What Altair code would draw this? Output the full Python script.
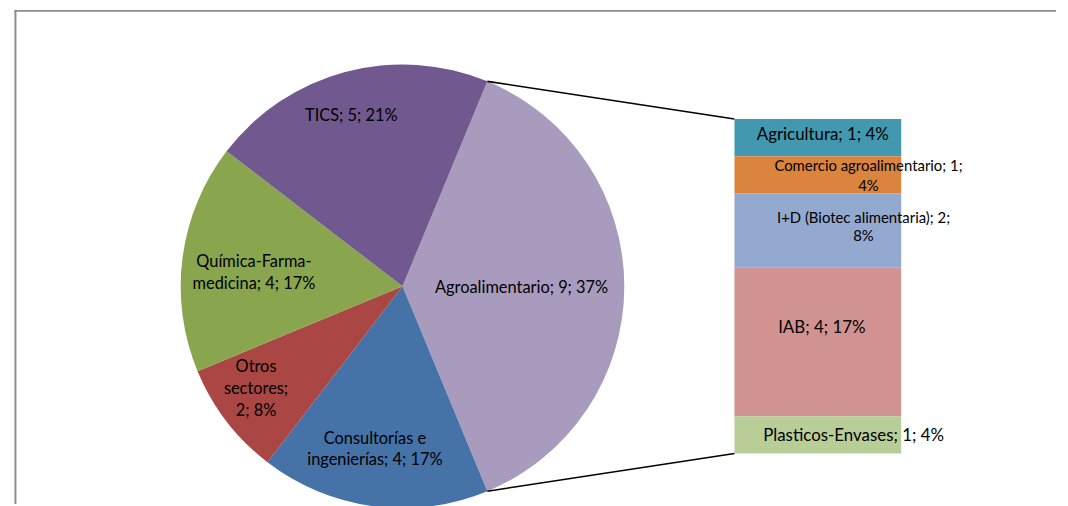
import math
import altair as alt
import pandas as pd

# ---------------- data ----------------
main_names = ["Agroalimentario", "Consultorías e ingenierías", "Otros sectores",
              "Química-Farma-medicina", "TICS"]
main_values = [9, 4, 2, 4, 5]
main_text = ["Agroalimentario; 9; 37%", "Consultorías e\ningenierías; 4; 17%",
             "Otros\nsectores;\n2; 8%", "Química-Farma-\nmedicina; 4; 17%", "TICS; 5; 21%"]
main_colors = ["#A99BBD", "#4572A7", "#AA4643", "#89A54E", "#71588F"]

bar_names = ["Agricultura", "Comercio agroalimentario", "I+D (Biotec alimentaria)",
             "IAB", "Plasticos-Envases"]
bar_values = [1, 1, 2, 4, 1]
bar_text = ["Agricultura; 1; 4%", "Comercio agroalimentario; 1;\n4%",
            "I+D (Biotec alimentaria); 2;\n8%", "IAB; 4; 17%", "Plasticos-Envases; 1; 4%"]
bar_colors = ["#4198AF", "#DB843D", "#93A9CF", "#D19392", "#B9CD96"]

# ---------------- layout / style ----------------
W, H = 1060, 498
CX, CY, R = 397.5, 278.5, 223.5
label_radius = [120, 167, 181, 151, 180]
pie_label_dx = [0, -6, -4, 0, -5]
pie_label_dy = [1.5, -12, -29, -5, 2]
pie_label_lh = [22, 22, 22.5, 22, 22]
BX0, BX1, BTOP, BBOT = 732, 900, 110, 447
bar_label_dx = [5, 51, 46, 4, 36]
bar_label_dy = [-2.5, -9, -13, -14, 1]
bar_label_size = [17, 15, 15, 17, 17]
bar_label_lh = [22, 20, 19, 22, 22]
FONT = "Lato"
PIE_FS = 16.5

total = sum(main_values)
start = math.pi / 2 - math.pi * main_values[0] / total
end_agro = start + 2 * math.pi * main_values[0] / total

color_scale = alt.Scale(domain=main_names + bar_names, range=main_colors + bar_colors)
theta_scale = alt.Scale(domain=[0, total], range=[start, start + 2 * math.pi])

cum_main = []
s = 0
for v in main_values:
    cum_main.append(s)
    s += v
pie_df = pd.DataFrame({"name": main_names, "value": main_values, "label": main_text,
                       "ord": list(range(len(main_names))), "lr": label_radius,
                       "tmid": [c + v / 2 for c, v in zip(cum_main, main_values)]})

arcs = alt.Chart(pie_df).mark_arc(outerRadius=R).encode(
    theta=alt.Theta("value:Q", stack=True, scale=theta_scale),
    order=alt.Order("ord:Q"),
    color=alt.Color("name:N", scale=color_scale, legend=None),
    x=alt.value(CX), y=alt.value(CY),
)

pie_label_layers = []
for i in range(len(main_names)):
    pie_label_layers.append(
        alt.Chart(pie_df.iloc[[i]]).mark_text(
            lineBreak="\n", font=FONT, fontSize=PIE_FS, lineHeight=pie_label_lh[i],
            dx=pie_label_dx[i], dy=pie_label_dy[i], color="#000000",
        ).encode(
            theta=alt.Theta("tmid:Q", stack=None, scale=theta_scale),
            radius=alt.Radius("lr:Q", scale=None),
            text="label:N",
            x=alt.value(CX), y=alt.value(CY),
        )
    )

cum = []
s = 0
for v in bar_values:
    cum.append(s)
    s += v
bar_df = pd.DataFrame({"name": bar_names, "value": bar_values, "label": bar_text,
                       "y0": cum, "y1": [c + v for c, v in zip(cum, bar_values)]})
bar_df["mid"] = (bar_df["y0"] + bar_df["y1"]) / 2
ys = alt.Scale(domain=[0, sum(bar_values)], range=[BTOP, BBOT])

bars = alt.Chart(bar_df).mark_bar().encode(
    x=alt.value(BX0), x2=alt.value(BX1),
    y=alt.Y("y0:Q", scale=ys, axis=None), y2="y1:Q",
    color=alt.Color("name:N", scale=color_scale, legend=None),
)

bar_label_layers = []
for i in range(len(bar_names)):
    bar_label_layers.append(
        alt.Chart(bar_df.iloc[[i]]).mark_text(
            lineBreak="\n", font=FONT, fontSize=bar_label_size[i],
            lineHeight=bar_label_lh[i], dx=bar_label_dx[i], dy=bar_label_dy[i],
            color="#000000",
        ).encode(
            x=alt.value((BX0 + BX1) / 2),
            y=alt.Y("mid:Q", scale=ys, axis=None),
            text="label:N",
        )
    )

one = pd.DataFrame({"k": [0]})
p0 = (CX + R * math.sin(start), CY - R * math.cos(start))
p1 = (CX + R * math.sin(end_agro), CY - R * math.cos(end_agro))
conn_top = alt.Chart(one).mark_rule(color="#000000", strokeWidth=1.6).encode(
    x=alt.value(p0[0]), y=alt.value(p0[1]), x2=alt.value(BX0), y2=alt.value(BTOP))
conn_bot = alt.Chart(one).mark_rule(color="#000000", strokeWidth=1.6).encode(
    x=alt.value(p1[0]), y=alt.value(p1[1]), x2=alt.value(BX0), y2=alt.value(BBOT))

border_top = alt.Chart(one).mark_rule(color="#8C8C8C", strokeWidth=2).encode(
    x=alt.value(6.5), x2=alt.value(1056), y=alt.value(1), y2=alt.value(1))
border_left = alt.Chart(one).mark_rule(color="#8C8C8C", strokeWidth=2).encode(
    x=alt.value(7.5), x2=alt.value(7.5), y=alt.value(0), y2=alt.value(H))

chart = alt.layer(
    arcs, conn_top, conn_bot, bars, *pie_label_layers, *bar_label_layers,
    border_top, border_left
).properties(
    width=W, height=H, padding=0, autosize="none"
).configure_view(stroke=None)

chart.save("out.html", embed_options={"renderer": "svg", "actions": False})
